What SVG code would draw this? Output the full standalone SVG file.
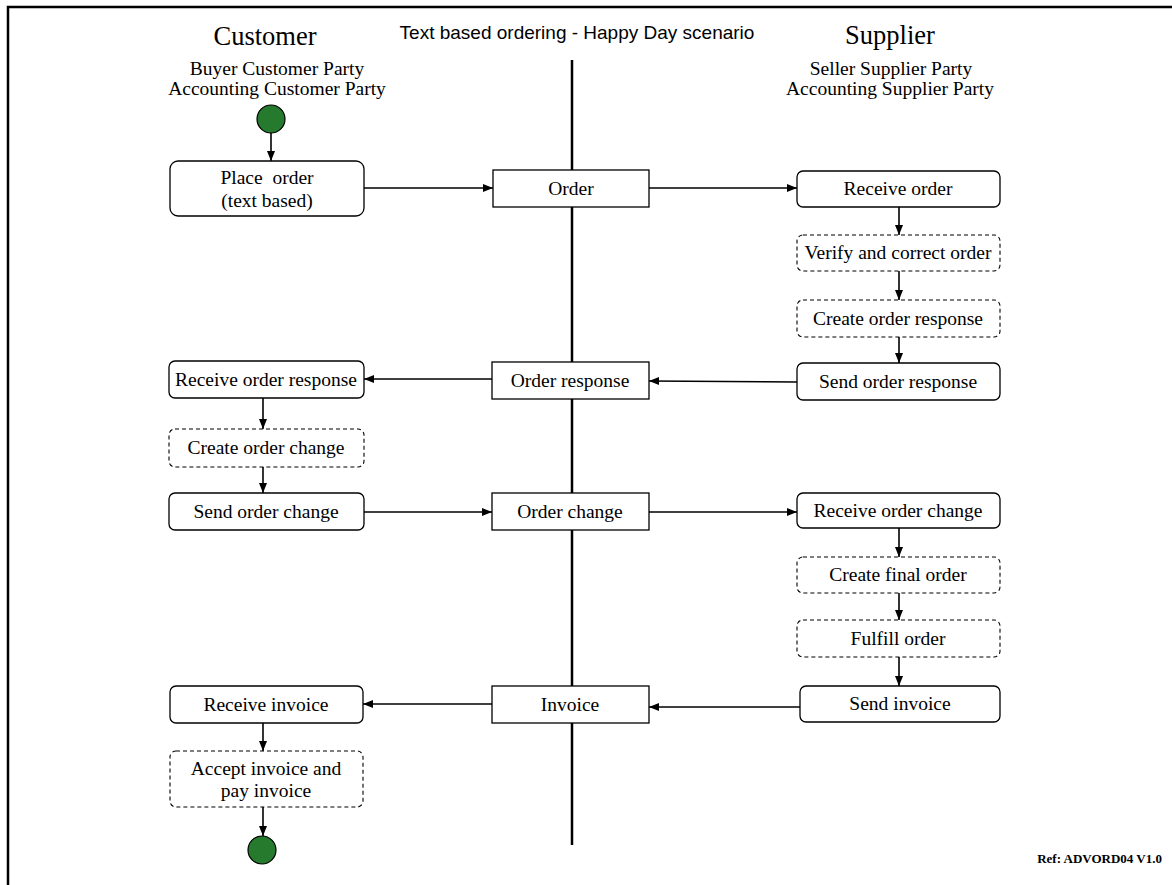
<svg xmlns="http://www.w3.org/2000/svg" width="1172" height="885" viewBox="0 0 1172 885">
<style>
.t{font-family:"Liberation Serif","Times New Roman",serif;font-size:19.5px;fill:#000;text-anchor:middle}
.h{font-family:"Liberation Serif","Times New Roman",serif;font-size:26.5px;fill:#000;text-anchor:middle}
.s{font-family:"Liberation Sans",Arial,sans-serif;font-size:19px;fill:#000;text-anchor:middle}
.act{fill:#fff;stroke:#000;stroke-width:1.3}
.opt{fill:#fff;stroke:#000;stroke-width:1.1;stroke-dasharray:4 3}
.doc{fill:#fff;stroke:#000;stroke-width:1.3}
.c{fill:none;stroke:#000;stroke-width:1.6;marker-end:url(#ah)}
.dot{fill:#267a2e;stroke:#000;stroke-width:1.2}
</style>
<defs>
<marker id="ah" viewBox="0 0 10 10" refX="10" refY="5" markerWidth="10" markerHeight="10" markerUnits="userSpaceOnUse" orient="auto">
<path d="M0,1 L10,5 L0,9 z" fill="#000"/>
</marker>
</defs>
<rect x="0" y="0" width="1172" height="885" fill="#fff"/>
<path d="M8,885 L8,7 L1172,7" fill="none" stroke="#000" stroke-width="2.5"/>
<text class="s" x="577" y="39">Text based ordering - Happy Day scenario</text>
<g id="customer-header">
<text class="h" x="265" y="45">Customer</text>
<text class="t" x="277" y="75">Buyer Customer Party</text>
<text class="t" x="277" y="95">Accounting Customer Party</text>
</g>
<g id="supplier-header">
<text class="h" x="890" y="44">Supplier</text>
<text class="t" x="891" y="75">Seller Supplier Party</text>
<text class="t" x="890" y="95">Accounting Supplier Party</text>
</g>
<g id="lifeline"><line x1="572" y1="60" x2="572" y2="845" stroke="#000" stroke-width="2.5"/></g>
<g id="connectors">
<line class="c" x1="271" y1="133" x2="271" y2="161"/>
<line class="c" x1="364" y1="188" x2="493" y2="188"/>
<line class="c" x1="649" y1="188" x2="797" y2="188"/>
<line class="c" x1="899" y1="207" x2="899" y2="235"/>
<line class="c" x1="899" y1="271" x2="899" y2="300"/>
<line class="c" x1="899" y1="337" x2="899" y2="363"/>
<line class="c" x1="797" y1="382" x2="649" y2="381"/>
<line class="c" x1="492" y1="379" x2="364" y2="379"/>
<line class="c" x1="263" y1="398" x2="263" y2="429"/>
<line class="c" x1="263" y1="467" x2="263" y2="493"/>
<line class="c" x1="364" y1="512" x2="492" y2="512"/>
<line class="c" x1="649" y1="512" x2="797" y2="512"/>
<line class="c" x1="899" y1="528" x2="899" y2="557"/>
<line class="c" x1="899" y1="593" x2="899" y2="620"/>
<line class="c" x1="899" y1="657" x2="899" y2="686"/>
<line class="c" x1="800" y1="707" x2="649" y2="707"/>
<line class="c" x1="492" y1="704" x2="363" y2="704"/>
<line class="c" x1="263" y1="723" x2="263" y2="751"/>
<line class="c" x1="263" y1="807" x2="263" y2="836"/>
</g>
<g id="start"><circle class="dot" cx="271" cy="119" r="14"/></g>
<g id="place-order"><rect class="act" x="170" y="161" width="194" height="55" rx="8"/><text class="t" x="267" y="184" style="white-space:pre">Place  order</text><text class="t" x="267" y="207">(text based)</text></g>
<g id="order"><rect class="doc" x="493" y="170" width="156" height="37"/><text class="t" x="571" y="195">Order</text></g>
<g id="receive-order"><rect class="act" x="797" y="171" width="203" height="36" rx="6"/><text class="t" x="898" y="195">Receive order</text></g>
<g id="verify-order"><rect class="opt" x="797" y="235" width="203" height="36" rx="6"/><text class="t" x="898" y="259">Verify and correct order</text></g>
<g id="create-order-response"><rect class="opt" x="797" y="300" width="203" height="37" rx="6"/><text class="t" x="898" y="325">Create order response</text></g>
<g id="send-order-response"><rect class="act" x="797" y="363" width="203" height="37" rx="6"/><text class="t" x="898" y="388">Send order response</text></g>
<g id="order-response"><rect class="doc" x="492" y="362" width="157" height="37"/><text class="t" x="570" y="387">Order response</text></g>
<g id="receive-order-response"><rect class="act" x="169" y="361" width="195" height="37" rx="6"/><text class="t" x="266" y="386">Receive order response</text></g>
<g id="create-order-change"><rect class="opt" x="169" y="429" width="195" height="38" rx="6"/><text class="t" x="266" y="454">Create order change</text></g>
<g id="send-order-change"><rect class="act" x="169" y="493" width="195" height="37" rx="6"/><text class="t" x="266" y="518">Send order change</text></g>
<g id="order-change"><rect class="doc" x="492" y="493" width="157" height="37"/><text class="t" x="570" y="518">Order change</text></g>
<g id="receive-order-change"><rect class="act" x="797" y="493" width="203" height="35" rx="6"/><text class="t" x="898" y="517">Receive order change</text></g>
<g id="create-final-order"><rect class="opt" x="797" y="557" width="203" height="36" rx="6"/><text class="t" x="898" y="581">Create final order</text></g>
<g id="fulfill-order"><rect class="opt" x="797" y="620" width="203" height="37" rx="6"/><text class="t" x="898" y="645">Fulfill order</text></g>
<g id="send-invoice"><rect class="act" x="800" y="686" width="200" height="36" rx="6"/><text class="t" x="900" y="710">Send invoice</text></g>
<g id="invoice"><rect class="doc" x="492" y="686" width="157" height="37"/><text class="t" x="570" y="711">Invoice</text></g>
<g id="receive-invoice"><rect class="act" x="170" y="686" width="193" height="37" rx="6"/><text class="t" x="266" y="711">Receive invoice</text></g>
<g id="accept-invoice"><rect class="opt" x="170" y="751" width="193" height="56" rx="6"/><text class="t" x="266" y="775">Accept invoice and</text><text class="t" x="266" y="797">pay invoice</text></g>
<g id="end"><circle class="dot" cx="262" cy="850" r="14"/></g>
<text x="1162" y="863" font-family="Liberation Serif,'Times New Roman',serif" font-size="13" font-weight="bold" text-anchor="end">Ref: ADVORD04 V1.0</text>
</svg>
